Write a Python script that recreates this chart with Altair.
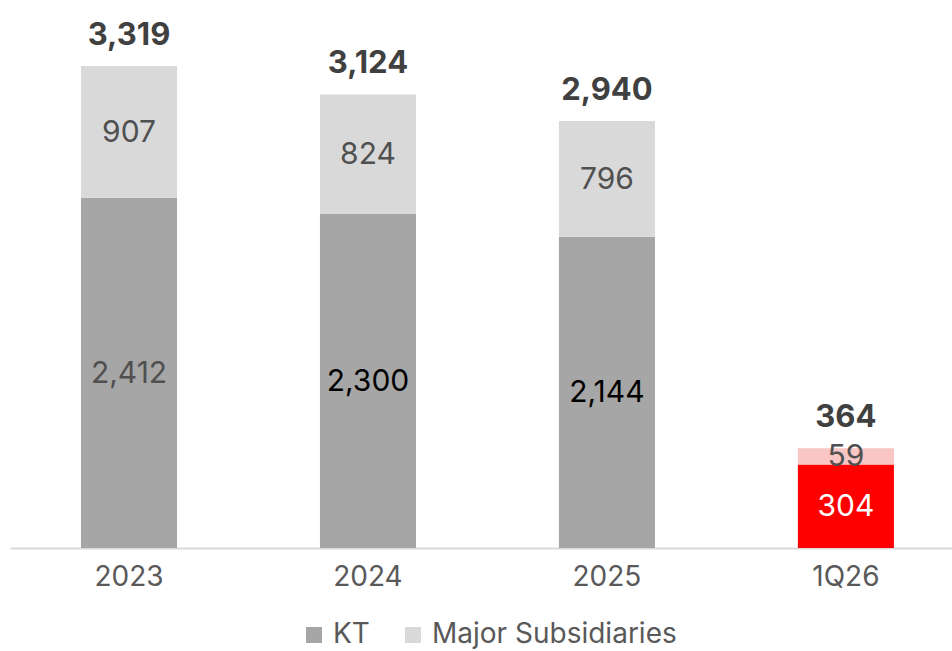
import altair as alt
import pandas as pd

periods = ["2023", "2024", "2025", "1Q26"]
kt = [2412, 2300, 2144, 304]
subs = [907, 824, 796, 59]
totals = [3319, 3124, 2940, 364]
series_names = ["KT", "Major Subsidiaries"]

rows = []
for p, a, b in zip(periods, kt, subs):
    for i, (s, v) in enumerate(zip(series_names, [a, b])):
        rows.append({"period": p, "series": s, "value": v, "order": i,
                     "key": s + (" (1Q26)" if p == "1Q26" else "")})
seg = pd.DataFrame(rows)
tot = pd.DataFrame({"period": periods, "total": totals})

FONT = "Inter"
keys = ["KT", "Major Subsidiaries", "KT (1Q26)", "Major Subsidiaries (1Q26)"]
key_colors = ["#a6a6a6", "#d9d9d9", "#ff0000", "#f9c5c5"]

xenc = alt.X(
    "period:N", sort=periods,
    scale=alt.Scale(domain=periods, paddingInner=0.598, paddingOuter=0.27, align=0.55),
    axis=alt.Axis(title=None, labelAngle=0, ticks=False, grid=False,
                  domainColor="#d9d9d9", domainWidth=2,
                  labelFont=FONT, labelFontSize=28, labelColor="#595959",
                  labelPadding=15),
)
cenc = alt.Color(
    "key:N",
    scale=alt.Scale(domain=keys, range=key_colors),
    legend=alt.Legend(values=series_names, title=None, orient="none",
                      legendX=290, legendY=621, direction="horizontal",
                      symbolType="square", symbolSize=256, symbolStrokeWidth=0,
                      labelFont=FONT, labelFontSize=28, labelColor="#595959",
                      labelOffset=5, columnPadding=29, padding=0, labelLimit=0),
)


def panel(is_q, ymax):
    test = "datum.period == '1Q26'" if is_q else "datum.period != '1Q26'"
    yscale = alt.Scale(domain=[0, ymax])
    base = alt.Chart(seg).transform_filter(test)
    bars = base.mark_bar().encode(
        x=xenc,
        y=alt.Y("value:Q", stack="zero", scale=yscale, axis=None),
        color=cenc,
        order=alt.Order("order:Q"),
    )
    if is_q:
        tcol = alt.condition("datum.series == 'KT'", alt.value("#ffffff"), alt.value("#505050"))
    else:
        tcol = alt.condition("datum.series == 'KT' && datum.period != '2023'",
                             alt.value("#000000"), alt.value("#505050"))
    seg_text = base.transform_stack(
        stack="value", groupby=["period"], as_=["v0", "v1"],
        sort=[alt.SortField("order", order="ascending")],
    ).transform_calculate(mid="(datum.v0 + datum.v1) / 2").mark_text(
        font=FONT, fontSize=30, baseline="middle", dy=1
    ).encode(
        x=xenc,
        y=alt.Y("mid:Q", scale=yscale, axis=None),
        text=alt.Text("value:Q", format=","),
        color=tcol,
    )
    tot_text = alt.Chart(tot).transform_filter(test).mark_text(
        font=FONT, fontSize=31, fontWeight="bold", color="#404040",
        baseline="alphabetic", dy=-21,
    ).encode(
        x=xenc,
        y=alt.Y("total:Q", scale=yscale, axis=None),
        text=alt.Text("total:Q", format=","),
    )
    return alt.layer(bars, seg_text, tot_text)


annual = panel(False, 3774)
quarter = panel(True, 1995)

chart = alt.layer(annual, quarter).resolve_scale(y="independent").properties(
    width=942, height=548,
    padding={"left": 10, "top": 0, "right": 0, "bottom": 0},
).configure_view(stroke=None)

chart.save("out.html", embed_options={"renderer": "svg", "actions": False})
